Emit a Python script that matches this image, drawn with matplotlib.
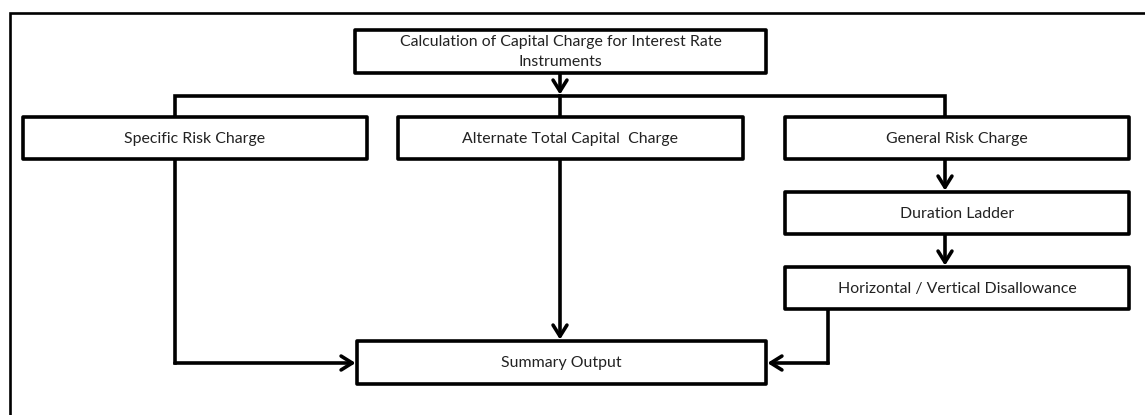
import matplotlib.pyplot as plt
from matplotlib.patches import Rectangle

# node labels
nodes = [
    "Calculation of Capital Charge for Interest Rate\nInstruments",
    "Specific Risk Charge",
    "Alternate Total Capital  Charge",
    "General Risk Charge",
    "Duration Ladder",
    "Horizontal / Vertical Disallowance",
    "Summary Output",
]

# layout in pixel coords: x0, y0, x1, y1 (y downward)
boxes = [
    (355, 30, 766, 73),
    (23, 117, 367, 159),
    (398, 117, 743, 159),
    (785, 117, 1129, 159),
    (785, 192, 1129, 234),
    (785, 267, 1129, 309),
    (357, 341, 766, 384),
]

# connectors: polylines, the last point gets an arrow head (or not)
paths = [
    ([(560, 73), (560, 96)], True),
    ([(175, 117), (175, 96), (945, 96), (945, 117)], False),
    ([(560, 96), (560, 117)], False),
    ([(175, 159), (175, 363), (357, 363)], True),
    ([(560, 159), (560, 341)], True),
    ([(828, 309), (828, 363), (766, 363)], True),
    ([(945, 159), (945, 192)], True),
    ([(945, 234), (945, 267)], True),
]

W, H = 1145, 415
fig = plt.figure(figsize=(W / 100, H / 100), dpi=100)
ax = fig.add_axes([0, 0, 1, 1])
ax.set_xlim(0, W)
ax.set_ylim(H, 0)
ax.axis("off")

# outer frame (cropped at right and bottom)
ax.plot([10, 10, W + 5], [H + 5, 13, 13], color="black", lw=1.9,
        solid_joinstyle="miter")

lw = 2.6
for (x0, y0, x1, y1), label in zip(boxes, nodes):
    ax.add_patch(Rectangle((x0, y0), x1 - x0, y1 - y0, facecolor="white",
                           edgecolor="black", lw=lw, joinstyle="round", zorder=3))
    ax.text((x0 + x1) / 2, (y0 + y1) / 2 + 0.5, label, ha="center", va="center",
            fontsize=11.4, family="Lato", color="#222222", linespacing=1.6,
            zorder=4)

for pts, head in paths:
    xs = [p[0] for p in pts]
    ys = [p[1] for p in pts]
    if head:
        ax.plot(xs[:-1], ys[:-1], color="black", lw=lw, solid_joinstyle="miter",
                solid_capstyle="projecting", zorder=2)
        ax.annotate("", xy=pts[-1], xytext=pts[-2],
                    arrowprops=dict(arrowstyle="->,head_length=0.8,head_width=0.5",
                                    color="black", lw=lw, shrinkA=0, shrinkB=1,
                                    mutation_scale=10), zorder=2)
    else:
        ax.plot(xs, ys, color="black", lw=lw, solid_joinstyle="miter",
                solid_capstyle="projecting", zorder=2)

fig.savefig("out.png", dpi=100)
